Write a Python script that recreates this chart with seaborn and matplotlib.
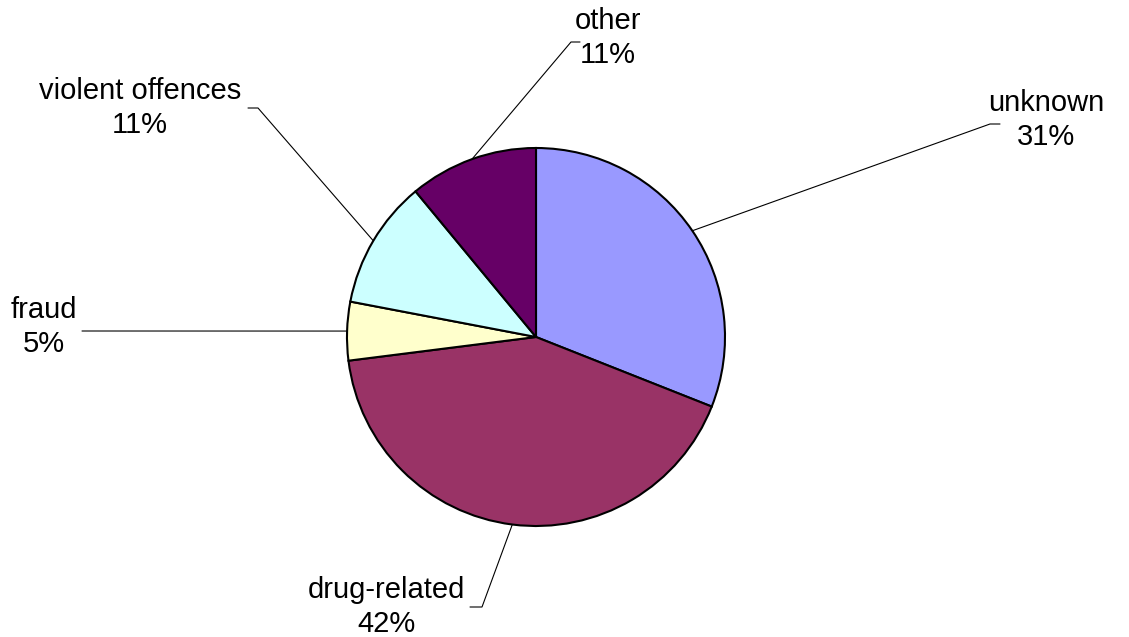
import numpy as np
import matplotlib
matplotlib.use('Agg')
import matplotlib.pyplot as plt
import seaborn as sns

# Offence categories and their share (%)
categories = ['unknown', 'drug-related', 'fraud', 'violent offences', 'other']
shares = [31, 42, 5, 11, 11]
colors = ['#9999FF', '#993366', '#FFFFCC', '#CCFFFF', '#660066']

# label layout in pixel coords (y from top): text centre, elbow of leader, end of short tick
label_pos = [(1046, 120), (386, 607), (44, 327), (140, 108), (608, 38)]
elbows = [(990, 124), (482, 607), (82, 331), (258, 108), (571, 42)]
tick_ends = [1000, 470, 82, 248, 580]

W, H = 1129, 637

sns.set_style('white')
plt.rcParams['font.family'] = ['Liberation Sans', 'DejaVu Sans']
plt.rcParams['text.color'] = 'black'

fig = plt.figure(figsize=(W / 100, H / 100), dpi=100)
ax = fig.add_axes([0, 0, 1, 1])

cx, cy, r = 536, H - 337, 189
wedges, _ = ax.pie(shares, colors=colors, startangle=90, counterclock=False,
                   center=(cx, cy), radius=r, frame=True,
                   wedgeprops=dict(edgecolor='black', linewidth=1.5))

for w, cat, val, (tx, ty), (ex, ey), tend in zip(wedges, categories, shares,
                                                 label_pos, elbows, tick_ends):
    ang = np.deg2rad((w.theta1 + w.theta2) / 2)
    px, py = cx + r * np.cos(ang), cy + r * np.sin(ang)
    ax.plot([px, ex, tend], [py, H - ey, H - ey], color='black', lw=0.8)
    ax.text(tx, H - ty, f"{cat}\n{val}%", ha='center', va='center',
            multialignment='center', fontsize=21, linespacing=1.3)

ax.set_xlim(0, W)
ax.set_ylim(0, H)
ax.set_aspect('equal')
ax.axis('off')

plt.savefig('out.png', dpi=100)
